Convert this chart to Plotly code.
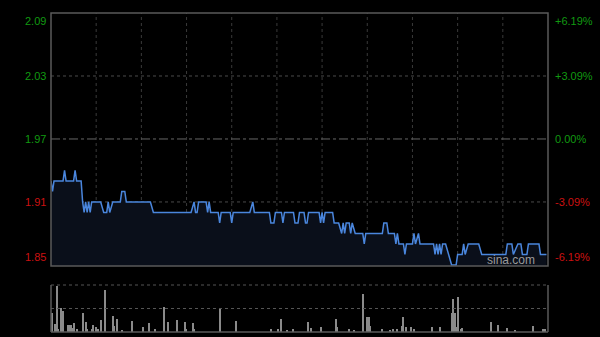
import plotly.graph_objects as go

# ---- data ----
minutes = [0, 1, 2, 8, 9, 10, 15, 16, 17, 20, 21, 22, 23, 24, 25, 26, 27, 33, 35, 37, 38, 39, 41,
           46, 47, 49, 50, 66, 68, 93, 95, 96, 97, 98, 103, 104, 105, 106, 111, 112, 113, 119, 120,
           121, 132, 134, 135, 145, 146, 148, 149, 153, 154, 155, 161, 162, 164, 165, 168, 169, 170,
           171, 178, 179, 180, 181, 182, 187, 188, 191, 193, 194, 195, 196, 198, 199, 200, 202, 207,
           208, 209, 220, 221, 223, 224, 228, 229, 230, 231, 234, 235, 236, 240, 241, 242, 244, 245,
           254, 255, 256, 257, 258, 259, 260, 262, 264, 266, 269, 270, 273, 274, 275, 277, 284, 286,
           302, 303, 306, 307, 310, 312, 313, 316, 317, 324, 325, 329]
prices = [1.93, 1.92, 1.93, 1.93, 1.94, 1.93, 1.93, 1.94, 1.93, 1.93, 1.91, 1.90, 1.91, 1.90, 1.91,
          1.90, 1.91, 1.91, 1.90, 1.90, 1.91, 1.90, 1.91,
          1.91, 1.92, 1.92, 1.91, 1.91, 1.90, 1.90, 1.91, 1.90, 1.90, 1.91, 1.91, 1.90, 1.91, 1.90,
          1.90, 1.89, 1.90, 1.90, 1.89,
          1.90, 1.90, 1.91, 1.90, 1.90, 1.89, 1.89, 1.90, 1.90, 1.89, 1.90, 1.90, 1.89, 1.89, 1.90,
          1.90, 1.89, 1.89,
          1.90, 1.90, 1.89, 1.90, 1.89, 1.90, 1.90, 1.89, 1.89, 1.88, 1.89, 1.88, 1.89, 1.89, 1.88,
          1.89, 1.88, 1.88,
          1.87, 1.88, 1.88, 1.89, 1.89, 1.88, 1.88, 1.87, 1.88, 1.87, 1.87, 1.86, 1.87, 1.87, 1.88,
          1.87, 1.88, 1.87,
          1.87, 1.86, 1.87, 1.86, 1.87, 1.86, 1.87, 1.87, 1.86, 1.85, 1.85, 1.86, 1.86, 1.87, 1.86,
          1.87, 1.87, 1.86,
          1.86, 1.87, 1.87, 1.86, 1.87, 1.87, 1.86, 1.86, 1.87, 1.87, 1.86, 1.86]

vol_minutes = [0, 1, 3, 4, 5, 7, 8, 11, 12, 13, 14, 15, 17, 21, 23, 24, 27, 28, 30, 31, 33, 36, 41,
               42, 44, 47, 54, 61, 65, 69, 75, 78, 84, 89, 90, 94, 95, 112, 123, 146, 151, 153, 157,
               161, 171, 173, 179, 189, 190, 198, 201, 207, 210, 211, 212, 220, 225, 227, 230, 233,
               234, 236, 239, 241, 253, 258, 266, 267, 268, 269, 270, 272, 273, 292, 297, 303, 308,
               320, 327, 328]
volumes = [11, 19, 8, 46, 3, 24, 21, 7, 7, 7, 4, 9, 3, 19, 10, 3, 3, 7, 5, 3, 12, 42, 16,
           6, 13, 2, 11, 5, 9, 3, 25, 10, 12, 10, 3, 9, 3, 23, 11, 3, 3, 13, 2,
           3, 10, 4, 5, 13, 5, 3, 2, 38, 15, 15, 6, 3, 2, 3, 3, 6,
           15, 5, 5, 3, 5, 5, 19, 33, 19, 5, 35, 3, 4, 10, 7, 4, 2,
           6, 3, 3]

prev_close = 1.97
price_ticks = [2.09, 2.03, 1.97, 1.91, 1.85]
pct_labels = ["+6.19%", "+3.09%", "0.00%", "-3.09%", "-6.19%"]
time_grid = [30, 60, 90, 120, 150, 180, 210, 240, 270, 300]

GREEN = "#119911"
RED = "#cc1111"
FONT = "Liberation Sans, Arial, sans-serif"

fig = go.Figure()
fig.add_trace(go.Scatter(
    x=minutes, y=prices, mode="lines",
    line=dict(color="#4a86dd", width=1.5),
    fill="tozeroy", fillcolor="#0a0f1a",
    xaxis="x", yaxis="y", hoverinfo="skip", showlegend=False))
fig.add_trace(go.Bar(
    x=vol_minutes, y=volumes, width=0.75,
    marker=dict(color="#8a8a8a", line=dict(width=0)),
    xaxis="x2", yaxis="y2", hoverinfo="skip", showlegend=False))

shapes = []
grid_col = "#3a3a3a"
frame_col = "#5a5a5a"
# vertical gridlines (price panel)
for m in time_grid:
    shapes.append(dict(type="line", xref="x", yref="y domain", x0=m, x1=m, y0=0, y1=1,
                       line=dict(color=grid_col, width=1, dash="dot"), layer="below"))
# horizontal gridlines
for p in [2.03, 1.91]:
    shapes.append(dict(type="line", xref="x domain", yref="y", x0=0, x1=1, y0=p, y1=p,
                       line=dict(color="#4a4a4a", width=1, dash="dot"), layer="below"))
shapes.append(dict(type="line", xref="x domain", yref="y", x0=0, x1=1, y0=prev_close, y1=prev_close,
                   line=dict(color="#666666", width=1, dash="dashdot"), layer="below"))
# price frame
shapes.append(dict(type="rect", xref="x domain", yref="y domain", x0=0, x1=1, y0=0, y1=1,
                   line=dict(color=frame_col, width=1.5)))
# volume frame
shapes.append(dict(type="line", xref="x2 domain", yref="y2 domain", x0=0, x1=1, y0=1, y1=1,
                   line=dict(color="#555555", width=1, dash="dot")))
shapes.append(dict(type="line", xref="x2 domain", yref="y2 domain", x0=0, x1=1, y0=0.5, y1=0.5,
                   line=dict(color="#555555", width=1, dash="dot")))
for xx in [0, 1]:
    shapes.append(dict(type="line", xref="x2 domain", yref="y2 domain", x0=xx, x1=xx, y0=0, y1=1,
                       line=dict(color=frame_col, width=1.5)))
shapes.append(dict(type="line", xref="x2 domain", yref="y2 domain", x0=0, x1=1, y0=0, y1=0,
                   line=dict(color=frame_col, width=1.5)))

annotations = []
for i, (p, lab) in enumerate(zip(price_ticks, pct_labels)):
    col = GREEN if p >= prev_close else RED
    yanchor = "top" if i == 0 else ("bottom" if i == len(price_ticks) - 1 else "middle")
    annotations.append(dict(xref="paper", yref="y", x=-0.006, y=p, text=f"{p:.2f}",
                            xanchor="right", yanchor=yanchor, showarrow=False,
                            font=dict(family=FONT, size=11, color=col)))
    annotations.append(dict(xref="paper", yref="y", x=1.01, y=p, text=lab,
                            xanchor="left", yanchor=yanchor, showarrow=False,
                            font=dict(family=FONT, size=11, color=col)))
annotations.append(dict(xref="paper", yref="y", x=0.978, y=1.8545, text="sina.com",
                        xanchor="right", yanchor="middle", showarrow=False,
                        font=dict(family=FONT, size=12, color="#9a9a9a")))

fig.update_layout(
    width=600, height=337,
    margin=dict(l=51, r=52, t=13, b=5),
    paper_bgcolor="#000000", plot_bgcolor="#000000",
    xaxis=dict(domain=[0, 1], range=[0, 330], visible=False, fixedrange=True),
    yaxis=dict(domain=[0.2069, 1], range=[1.849, 2.09], visible=False, fixedrange=True),
    xaxis2=dict(domain=[0, 1], range=[0, 330], visible=False, anchor="y2"),
    yaxis2=dict(domain=[0, 0.1473], range=[0, 47], visible=False, anchor="x2"),
    shapes=shapes, annotations=annotations,
    bargap=0, showlegend=False,
)

fig.write_html("out.html")
